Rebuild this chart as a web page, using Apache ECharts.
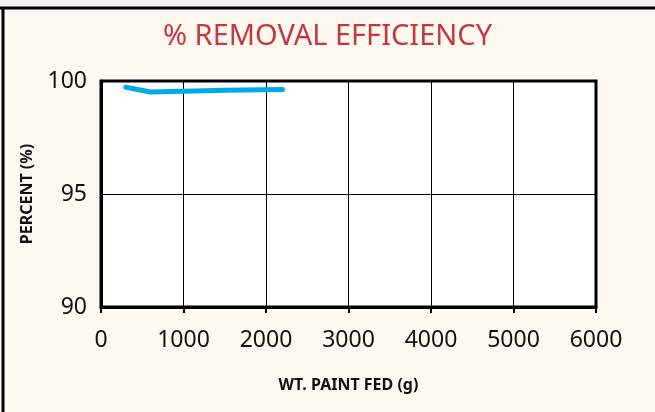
<!DOCTYPE html>
<html><head><meta charset="utf-8">
<script src="https://cdn.jsdelivr.net/npm/echarts@6/dist/echarts.min.js"></script>
<style>html,body{margin:0;padding:0;background:#fdf9f1;}#c{width:655px;height:412px;}</style>
</head><body><div id="c"></div>
<script>
const titleText = '% REMOVAL EFFICIENCY';
const xName = 'WT. PAINT FED (g)';
const yName = 'PERCENT (%)';
const paintFed = [300, 600, 1000, 1500, 2200];
const efficiency = [99.72, 99.51, 99.55, 99.59, 99.62];
const xTicks = [0, 1000, 2000, 3000, 4000, 5000, 6000];
const yTicks = [90, 95, 100];

const chart = echarts.init(document.getElementById('c'));
chart.setOption({
  backgroundColor: '#fdf9f1',
  animation: false,
  graphic: [
    {type: 'rect', shape: {x: 0, y: 0, width: 655, height: 7}, style: {fill: '#f3f3f3'}, z: 0},
    {type: 'line', shape: {x1: 0, y1: 8, x2: 655, y2: 8}, style: {stroke: '#000', lineWidth: 3}},
    {type: 'line', shape: {x1: 3, y1: 8, x2: 3, y2: 412}, style: {stroke: '#000', lineWidth: 3}}
  ],
  title: {
    text: titleText, left: 'center', top: 17,
    textStyle: {color: '#c5383f', fontSize: 29, fontWeight: 'normal', fontFamily: 'Noto Sans'}
  },
  grid: {left: 101, right: 59, top: 81, bottom: 105, show: true, backgroundColor: '#fff', borderColor: '#000', borderWidth: 3},
  xAxis: {
    type: 'value', min: xTicks[0], max: xTicks[xTicks.length - 1], interval: 1000,
    name: xName, nameLocation: 'middle', nameGap: 70,
    nameTextStyle: {fontSize: 16, fontWeight: 'bold', color: '#111', fontFamily: 'Noto Sans'},
    axisLine: {show: true, lineStyle: {color: '#000', width: 3}},
    axisTick: {show: true, length: 6, lineStyle: {color: '#000', width: 2}},
    axisLabel: {fontSize: 23, color: '#111', margin: 22, fontFamily: 'Noto Sans', formatter: v => String(v)},
    splitLine: {show: true, lineStyle: {color: '#000', width: 1}}
  },
  yAxis: {
    type: 'value', min: yTicks[0], max: yTicks[yTicks.length - 1], interval: 5,
    name: yName, nameLocation: 'middle', nameGap: 66, nameRotate: 90,
    nameTextStyle: {fontSize: 16, fontWeight: 'bold', color: '#111', fontFamily: 'Noto Sans'},
    axisLine: {show: true, lineStyle: {color: '#000', width: 3}},
    axisTick: {show: false},
    axisLabel: {fontSize: 23, color: '#111', margin: 14, fontFamily: 'Noto Sans', formatter: v => String(v)},
    splitLine: {show: true, lineStyle: {color: '#000', width: 1}}
  },
  series: [{
    type: 'line', data: paintFed.map((x, i) => [x, efficiency[i]]),
    showSymbol: false, lineStyle: {color: '#00a9e8', width: 5, cap: 'round', join: 'round'}
  }]
});
</script></body></html>
